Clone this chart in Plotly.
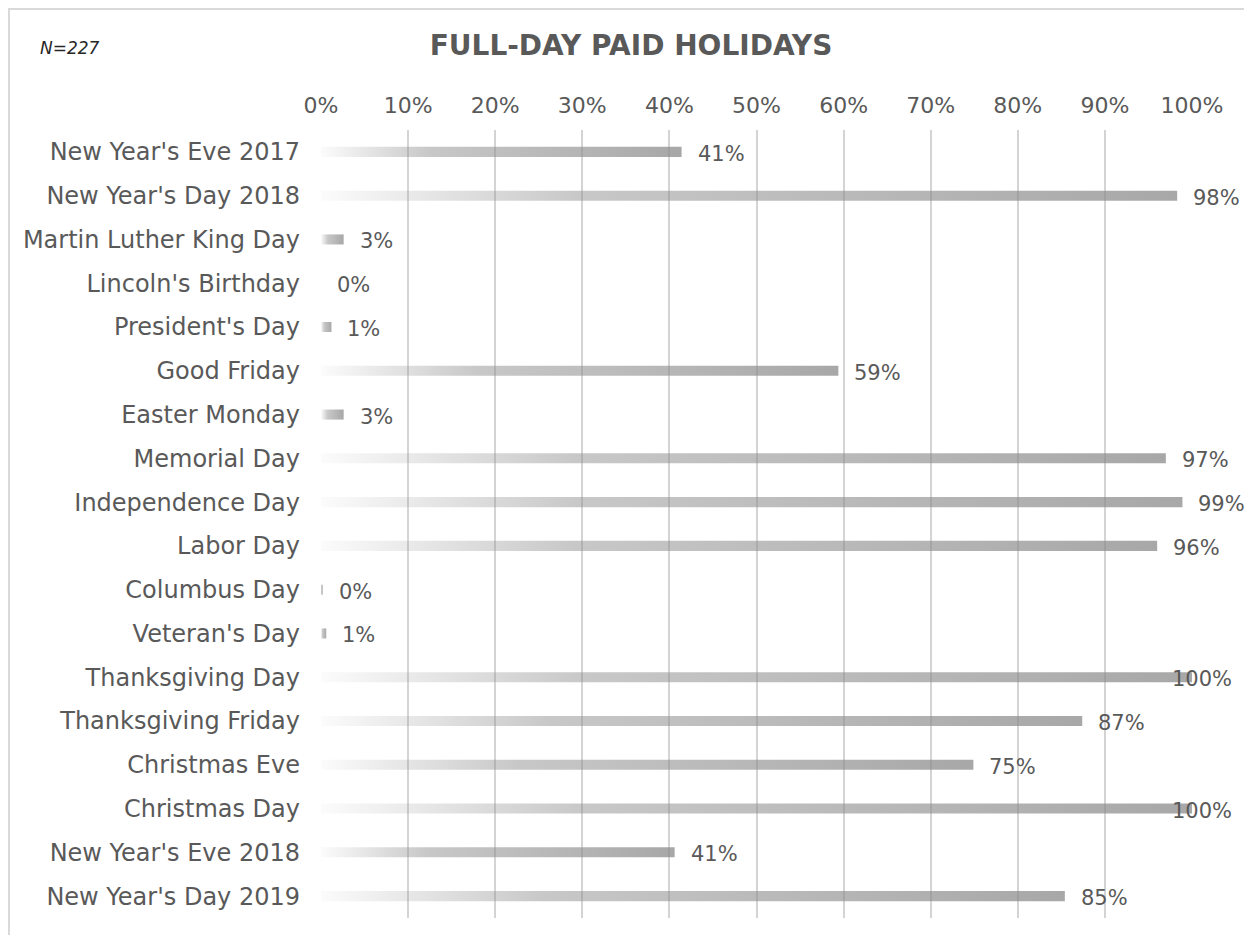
import plotly.graph_objects as go

# ---------------- data ----------------
categories = [
    "New Year's Eve 2017", "New Year's Day 2018", "Martin Luther King Day",
    "Lincoln's Birthday", "President's Day", "Good Friday", "Easter Monday",
    "Memorial Day", "Independence Day", "Labor Day", "Columbus Day",
    "Veteran's Day", "Thanksgiving Day", "Thanksgiving Friday", "Christmas Eve",
    "Christmas Day", "New Year's Eve 2018", "New Year's Day 2019",
]
values = [41.4, 98.3, 2.6, 0.0, 1.2, 59.4, 2.6, 97.0, 98.9, 96.0,
          0.2, 0.6, 100.0, 87.4, 74.9, 100.0, 40.6, 85.4]
value_labels = [f"{round(v)}%" for v in values]
x_ticks = list(range(0, 101, 10))
x_tick_labels = [f"{t}%" for t in x_ticks]
title_text = "FULL-DAY PAID HOLIDAYS"
n_text = "N=227"

# ---------------- layout constants ----------------
OFF = 8                      # page body margin
W, H = 1252 - 2 * OFF, 943 - 2 * OFF
ML = 321 - OFF
MT = 130 - OFF
MR = W - (1192 - OFF)
MB = H - (918 - OFF)
TEXT = "#595959"
FONT = "DejaVu Sans"
HALF = 0.115  # half bar thickness in category units

fig = go.Figure()

for i, v in enumerate(values):
    if v <= 0:
        continue
    fig.add_trace(go.Scatter(
        x=[0, v, v, 0, 0],
        y=[i - HALF, i - HALF, i + HALF, i + HALF, i - HALF],
        mode="lines", line=dict(width=0),
        fill="toself",
        fillgradient=dict(
            type="horizontal", start=0, stop=v,
            colorscale=[[0, "rgba(140,140,140,0.03)"],
                        [0.3, "rgba(140,140,140,0.48)"],
                        [1, "rgba(140,140,140,0.76)"]],
        ),
        hoverinfo="skip", showlegend=False,
    ))

for i, (v, lab) in enumerate(zip(values, value_labels)):
    shift = -22 if v >= 99.95 else 14
    fig.add_annotation(
        x=v, y=i, xref="x", yref="y", text=lab, showarrow=False,
        xanchor="left", yanchor="middle", xshift=shift, yshift=-2,
        font=dict(family=FONT, size=21, color=TEXT),
    )

plot_w = W - ML - MR
plot_h = H - MT - MB

# N label
fig.add_annotation(
    x=(38 - OFF - ML) / plot_w, y=1 + (MT - (48 - OFF)) / plot_h,
    xref="paper", yref="paper",
    text=f"<i>{n_text}</i>", showarrow=False, xanchor="left", yanchor="middle",
    font=dict(family=FONT, size=17, color="#262626"),
)

# chart border (top and left edges visible)
fig.add_shape(
    type="rect", xref="paper", yref="paper",
    x0=(1 - ML) / plot_w, x1=(W + 20 - ML) / plot_w,
    y0=1 + (MT - 1) / plot_h, y1=-(MB + 20) / plot_h,
    line=dict(color="#D9D9D9", width=2), fillcolor="rgba(0,0,0,0)", layer="below",
)

fig.update_layout(
    width=W, height=H,
    margin=dict(l=ML, r=MR, t=MT, b=MB, pad=0),
    paper_bgcolor="white", plot_bgcolor="white",
    showlegend=False,
    title=dict(
        text=f"<b>{title_text}</b>", x=(631 - OFF) / W, xanchor="center",
        y=1 - (45 - OFF) / H, yanchor="middle",
        font=dict(family=FONT, size=28, color=TEXT),
    ),
    xaxis=dict(
        range=[0, 100], side="top", tickvals=x_ticks, ticktext=x_tick_labels,
        showgrid=True, gridcolor="#D4D4D4", gridwidth=2, zeroline=False,
        showline=False, ticks="", ticklabelstandoff=12,
        tickfont=dict(family=FONT, size=22, color=TEXT), fixedrange=True,
    ),
    yaxis=dict(
        range=[17.5, -0.5], tickvals=list(range(len(categories))),
        ticktext=categories, showgrid=False, zeroline=False, showline=False,
        ticks="", ticklabelstandoff=20,
        tickfont=dict(family=FONT, size=24, color=TEXT), fixedrange=True,
    ),
)

fig.write_html("out.html")
